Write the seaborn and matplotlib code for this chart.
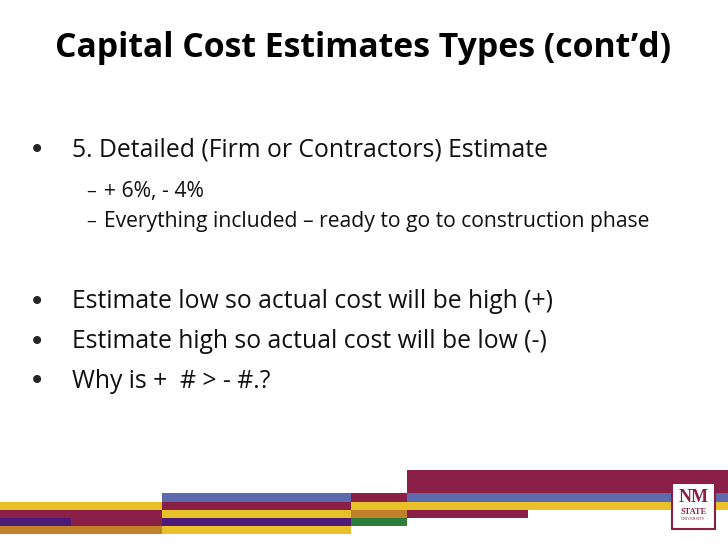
import matplotlib
matplotlib.use('Agg')
import matplotlib.pyplot as plt
import seaborn as sns

sns.set_style('white')
plt.rcParams['font.family'] = ['Open Sans', 'DejaVu Sans']

# Slide text
title = 'Capital Cost Estimates Types (cont\u2019d)'
bullets = ['5. Detailed (Firm or Contractors) Estimate',
           'Estimate low so actual cost will be high (+)',
           'Estimate high so actual cost will be low (-)',
           'Why is +  # > - #.?']
bullet_y = [150, 302, 342, 381]
subs = ['+ 6%, - 4%',
        'Everything included \u2013 ready to go to construction phase']
sub_y = [192, 222]

# Decorative stripe bands: (row top, row height, start, width, colour)
MAROON, BLUE, YELLOW, ORANGE, PURPLE, GREEN = '#8a1f47', '#5b6bad', '#e8c02a', '#c0812a', '#4e1a78', '#2e7d3a'
row_top = [470, 493, 493, 493, 502, 502, 502, 502, 510, 510, 510, 510, 518, 518, 518, 518, 526, 526]
row_h = [23, 9, 9, 9, 8, 8, 8, 8, 8, 8, 8, 8, 8, 8, 8, 8, 8, 8]
seg_x = [407, 162, 351, 407, 0, 162, 351, 407, 0, 162, 351, 407, 0, 71, 162, 351, 0, 162]
seg_w = [321, 189, 56, 321, 162, 189, 56, 321, 162, 189, 56, 121, 71, 91, 189, 56, 162, 189]
seg_c = [MAROON, BLUE, MAROON, BLUE, YELLOW, MAROON, YELLOW, YELLOW, MAROON, YELLOW, ORANGE, MAROON,
         PURPLE, MAROON, PURPLE, GREEN, ORANGE, YELLOW]

fig = plt.figure(figsize=(7.28, 5.46), dpi=100)
ax = fig.add_axes([0, 0, 1, 1])
ax.set_xlim(0, 728)
ax.set_ylim(546, 0)
ax.axis('off')

ax.barh([t + h / 2 for t, h in zip(row_top, row_h)], seg_w, height=row_h, left=seg_x,
        color=seg_c, linewidth=0)

# NM State logo
ax.add_patch(plt.Rectangle((672, 483), 43, 46, facecolor='white', edgecolor=MAROON, linewidth=1.5))
ax.text(693.5, 497, 'NM', color=MAROON, fontsize=13, fontweight='bold', ha='center', va='center',
        family=['Liberation Serif'])
ax.text(693.5, 512, 'STATE', color=MAROON, fontsize=6, fontweight='bold', ha='center', va='center',
        family=['Liberation Serif'])
ax.text(693.5, 519, 'UNIVERSITY', color=MAROON, fontsize=3, ha='center', va='center',
        family=['Liberation Serif'])

ax.text(55, 48, title, fontsize=24.3, fontweight='bold', va='center', color='black')
for t, y in zip(bullets, bullet_y):
    ax.text(29, y, '\u2022', fontsize=20, va='center', family=['DejaVu Sans'])
    ax.text(72, y, t, fontsize=17.8, va='center', color='#111111')
for t, y in zip(subs, sub_y):
    ax.text(86, y, '\u2013', fontsize=14, va='center', color='#111111')
    ax.text(104, y, t, fontsize=15.2, va='center', color='#111111')

fig.savefig('out.png', dpi=100)
